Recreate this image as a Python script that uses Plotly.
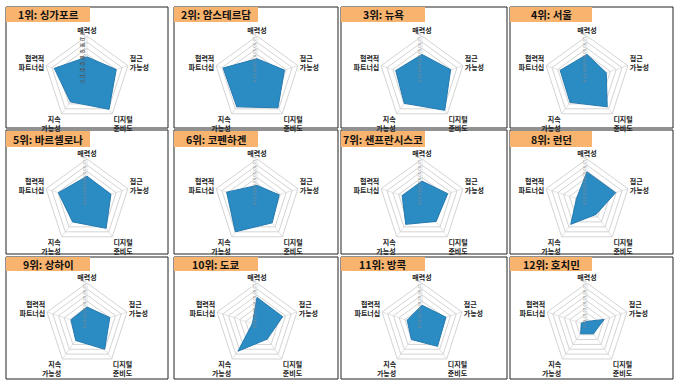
import plotly.graph_objects as go

# ---- data ----
cities = ["싱가포르", "암스테르담", "뉴욕", "서울", "바르셀로나", "코펜하겐",
          "샌프란시스코", "런던", "상하이", "도쿄", "방콕", "호치민"]
ranks = list(range(1, 13))
axis_labels = ["매력성", "접근<br>가능성", "디지털<br>준비도", "지속<br>가능성", "협력적<br>파트너십"]
attractiveness = [3.6, 3.3, 4.0, 4.0, 4.2, 2.7, 3.4, 4.9, 3.0, 4.6, 3.3, 0.6]
accessibility  = [5.0, 4.7, 4.9, 3.3, 4.1, 3.8, 4.4, 4.9, 4.0, 4.5, 4.2, 3.0]
digital        = [6.1, 5.8, 6.3, 5.6, 5.3, 4.2, 3.9, 2.5, 5.0, 2.9, 4.4, 1.8]
sustainability = [4.6, 5.6, 4.9, 4.7, 4.0, 6.0, 4.5, 4.5, 3.2, 5.4, 3.0, 1.8]
partnership    = [5.6, 5.8, 4.5, 4.6, 4.9, 5.2, 3.4, 1.8, 2.8, 0.8, 2.6, 1.0]
radial_ticks = [0, 1, 2, 3, 4, 5, 6, 7]

# ---- layout geometry (pixels) ----
W, H = 681, 388
col_cx = [87, 257, 422, 587]
row_cy = [79, 202, 325]
row_R = [43, 43, 42]
frame_x = [(6, 168), (174, 338), (341, 507), (510, 673)]
frame_y = [(7, 128), (130, 254), (257, 379)]
title_x = [(6, 90), (174, 258), (341, 425), (510, 592)]
title_y = [(7, 22), (131, 147), (257, 271)]

FONT = "Noto Sans CJK KR"
FILL = "#2B8BC3"
LINE = "#2479AE"
GRID = "#d4d4d4"

def px(x):
    return x / W

def py(y):
    return 1 - y / H

fig = go.Figure()
shapes = []
annotations = []
layout_polars = {}

for i in range(12):
    r_, c_ = divmod(i, 4)
    name = "polar" if i == 0 else f"polar{i+1}"
    vals = [attractiveness[i], accessibility[i], digital[i], sustainability[i], partnership[i]]
    fig.add_trace(go.Scatterpolar(
        r=vals + [vals[0]],
        theta=axis_labels + [axis_labels[0]],
        mode="lines",
        fill="toself",
        fillcolor=FILL,
        line=dict(color=LINE, width=1),
        subplot=name,
        showlegend=False,
        hoverinfo="skip",
    ))
    cx, cy, R = col_cx[c_], row_cy[r_], row_R[r_]
    tick_size = 6 if i == 0 else 4.2
    tick_color = "#555555" if i == 0 else "#8a8a8a"
    layout_polars[name] = dict(
        domain=dict(x=[px(cx - R), px(cx + R)], y=[py(cy + R), py(cy - R)]),
        bgcolor="rgba(0,0,0,0)",
        gridshape="linear",
        radialaxis=dict(
            range=[0, 7], tickvals=radial_ticks, tickformat=".1f",
            angle=90, tickangle=0, side="counterclockwise",
            showline=False, ticks="", gridcolor=GRID, gridwidth=1,
            tickfont=dict(size=tick_size, color=tick_color, family=FONT),
            layer="above traces",
        ),
        angularaxis=dict(
            rotation=90, direction="clockwise",
            showline=True, linecolor=GRID, linewidth=1,
            showgrid=True, gridcolor="#e4e4e4", ticks="",
            tickfont=dict(size=7, color="#222222", family=FONT, weight="bold"),
            layer="below traces",
        ),
    )
    # frame
    fx0, fx1 = frame_x[c_]
    fy0, fy1 = frame_y[r_]
    shapes.append(dict(type="rect", xref="paper", yref="paper",
                       x0=px(fx0), x1=px(fx1), y0=py(fy1), y1=py(fy0),
                       line=dict(color="#222222", width=1), fillcolor="rgba(0,0,0,0)",
                       layer="below"))

for i in range(12):
    r_, c_ = divmod(i, 4)
    tx0, tx1 = title_x[c_]
    ty0, ty1 = title_y[r_]
    shapes.append(dict(type="rect", xref="paper", yref="paper",
                       x0=px(tx0), x1=px(tx1), y0=py(ty1), y1=py(ty0),
                       line=dict(width=0), fillcolor="#F8B46E", layer="below"))
    annotations.append(dict(
        x=px((tx0 + tx1) / 2), y=py((ty0 + ty1) / 2), xref="paper", yref="paper",
        text=f"<b>{ranks[i]}위: {cities[i]}</b>", showarrow=False,
        xanchor="center", yanchor="middle",
        font=dict(size=10.5, color="#111111", family=FONT),
    ))

fig.update_layout(
    width=W, height=H,
    margin=dict(l=0, r=0, t=0, b=0),
    paper_bgcolor="white", plot_bgcolor="white",
    font=dict(family=FONT),
    shapes=shapes, annotations=annotations,
    **layout_polars,
)

fig.write_html("out.html")
